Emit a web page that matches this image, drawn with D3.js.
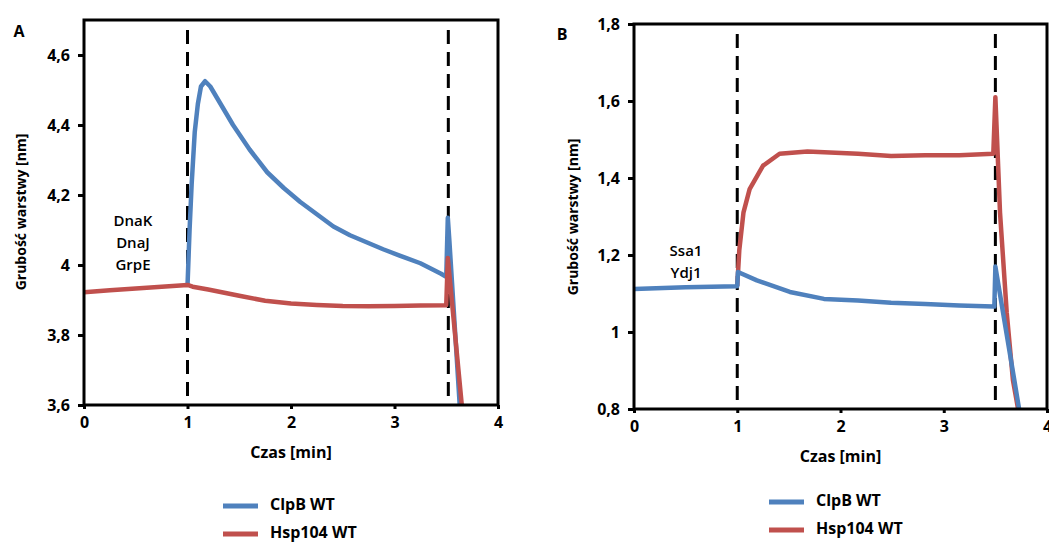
<!DOCTYPE html>
<html>
<head>
<meta charset="utf-8">
<script src="https://cdn.jsdelivr.net/npm/d3@7"></script>
<style>
  body { margin: 0; background: #fff; }
  svg text { font-family: "Open Sans", "DejaVu Sans", sans-serif; font-weight: bold; fill: #000; }
</style>
</head>
<body>
<div id="chart"></div>
<script>
// ---- panel A data (DnaK / DnaJ / GrpE) ----
const timeA_ClpB = [1.0, 1.02, 1.04, 1.07, 1.10, 1.13, 1.17, 1.22, 1.30, 1.44, 1.60, 1.77, 1.93, 2.09, 2.25, 2.41, 2.57, 2.73, 2.89, 3.05, 3.25, 3.45, 3.50, 3.515, 3.53, 3.63];
const valA_ClpB  = [3.94, 4.10, 4.23, 4.38, 4.46, 4.51, 4.525, 4.51, 4.47, 4.40, 4.33, 4.265, 4.22, 4.18, 4.145, 4.11, 4.085, 4.065, 4.045, 4.027, 4.005, 3.975, 3.966, 4.135, 4.07, 3.60];
const timeA_Hsp = [0, 0.25, 0.5, 0.75, 1.0, 1.05, 1.2, 1.5, 1.75, 2.0, 2.25, 2.5, 2.75, 3.0, 3.25, 3.5, 3.515, 3.65];
const valA_Hsp  = [3.922, 3.928, 3.933, 3.938, 3.943, 3.938, 3.930, 3.912, 3.898, 3.890, 3.886, 3.883, 3.882, 3.883, 3.884, 3.885, 4.02, 3.60];
const yTicksA = [3.6, 3.8, 4, 4.2, 4.4, 4.6];
const yTickLabelsA = ["3,6", "3,8", "4", "4,2", "4,4", "4,6"];
const notesA = ["DnaK", "DnaJ", "GrpE"];

// ---- panel B data (Ssa1 / Ydj1) ----
const timeB_ClpB = [0, 0.5, 1.0, 1.007, 1.19, 1.51, 1.84, 2.17, 2.49, 2.82, 3.15, 3.48, 3.49, 3.50, 3.73];
const valB_ClpB  = [1.112, 1.116, 1.119, 1.156, 1.134, 1.104, 1.086, 1.082, 1.076, 1.073, 1.069, 1.066, 1.066, 1.17, 0.80];
const timeB_Hsp = [1.0, 1.02, 1.06, 1.12, 1.25, 1.41, 1.68, 2.17, 2.49, 2.82, 3.15, 3.48, 3.50, 3.545, 3.61, 3.67, 3.72];
const valB_Hsp  = [1.12, 1.213, 1.31, 1.371, 1.432, 1.463, 1.469, 1.463, 1.457, 1.459, 1.459, 1.463, 1.61, 1.31, 1.05, 0.875, 0.80];
const yTicksB = [0.8, 1, 1.2, 1.4, 1.6, 1.8];
const yTickLabelsB = ["0,8", "1", "1,2", "1,4", "1,6", "1,8"];
const notesB = ["Ssa1", "Ydj1"];

const xTicks = [0, 1, 2, 3, 4];
const seriesNames = ["ClpB WT", "Hsp104 WT"];
const colors = ["#4f81bd", "#c0504d"];

const svg = d3.select("#chart").append("svg")
    .attr("width", 1049)
    .attr("height", 542);

function zip(t, v) {
  return t.map((d, i) => ({ t: d, v: v[i] }));
}

function drawPanel(p) {
  let x = d3.scaleLinear().domain([0, 4]).range([p.left, p.right]);
  let y = d3.scaleLinear().domain(p.yDomain).range([p.bottom, p.top]);
  let g = svg.append("g");

  g.append("clipPath").attr("id", "clip" + p.id)
    .append("rect")
    .attr("x", p.left).attr("y", p.top)
    .attr("width", p.right - p.left).attr("height", p.bottom - p.top);

  // dashed markers
  p.markers.forEach(m => {
    g.append("line")
      .attr("x1", x(m)).attr("x2", x(m))
      .attr("y1", p.top + 10).attr("y2", p.bottom)
      .attr("stroke", "#000")
      .attr("stroke-width", 3)
      .attr("stroke-dasharray", "14,8");
  });

  let line = d3.line().x(d => x(d.t)).y(d => y(d.v));

  p.series.forEach(s => {
    g.append("path")
      .attr("d", line(s.data))
      .attr("fill", "none")
      .attr("stroke", s.color)
      .attr("stroke-width", 4.5)
      .attr("stroke-linejoin", "round")
      .attr("clip-path", `url(#clip${p.id})`);
  });

  // frame
  g.append("rect")
    .attr("x", p.left).attr("y", p.top)
    .attr("width", p.right - p.left).attr("height", p.bottom - p.top)
    .attr("fill", "none").attr("stroke", "#000").attr("stroke-width", 3);

  let xAxis = d3.axisBottom(x).tickValues(xTicks).tickSize(4).tickPadding(8)
      .tickFormat(d3.format("d"));
  let yAxis = d3.axisLeft(y).tickValues(p.yTicks).tickSize(6).tickPadding(8)
      .tickFormat((d, i) => p.yLabels[i]);

  g.append("g")
    .attr("transform", `translate(0, ${p.bottom})`)
    .call(xAxis)
    .call(a => a.select(".domain").remove())
    .call(a => a.selectAll("line").attr("stroke-width", 3))
    .call(a => a.selectAll("text").style("font-size", "16px"));

  g.append("g")
    .attr("transform", `translate(${p.left}, 0)`)
    .call(yAxis)
    .call(a => a.select(".domain").remove())
    .call(a => a.selectAll("line").attr("stroke-width", 3))
    .call(a => a.selectAll("text").style("font-size", "16px"));

  // axis titles
  g.append("text")
    .attr("x", (p.left + p.right) / 2).attr("y", p.bottom + 53)
    .attr("text-anchor", "middle")
    .style("font-size", "16px")
    .text("Czas [min]");

  g.append("text")
    .attr("transform", `translate(${p.yTitleX}, ${p.yTitleY}) rotate(-90)`)
    .attr("text-anchor", "middle")
    .attr("dominant-baseline", "middle")
    .style("font-size", "14px")
    .text("Grubość warstwy [nm]");

  // panel letter
  g.append("text")
    .attr("x", p.letterX).attr("y", p.letterY)
    .attr("text-anchor", "middle").attr("dominant-baseline", "middle")
    .style("font-size", "16px")
    .text(p.id);

  // annotations
  p.notes.forEach((n, i) => {
    g.append("text")
      .attr("x", p.noteX).attr("y", p.noteY + i * 22)
      .attr("text-anchor", "middle").attr("dominant-baseline", "middle")
      .style("font-size", "15px").style("font-weight", "600")
      .text(n);
  });

  // legend
  seriesNames.forEach((n, i) => {
    let ly = p.legendY + i * 28;
    g.append("line")
      .attr("x1", p.legendX).attr("x2", p.legendX + 35)
      .attr("y1", ly).attr("y2", ly)
      .attr("stroke", colors[i]).attr("stroke-width", 5);
    g.append("text")
      .attr("x", p.legendX + 47).attr("y", ly)
      .attr("dominant-baseline", "middle")
      .style("font-size", "16px")
      .text(n);
  });
}

drawPanel({
  id: "A",
  left: 84, right: 498, top: 20, bottom: 405,
  yDomain: [3.6, 4.7], yTicks: yTicksA, yLabels: yTickLabelsA,
  markers: [1, 3.52],
  series: [
    { data: zip(timeA_ClpB, valA_ClpB), color: colors[0] },
    { data: zip(timeA_Hsp, valA_Hsp), color: colors[1] }
  ],
  yTitleX: 22, yTitleY: 212,
  letterX: 19, letterY: 33,
  notes: notesA, noteX: 133, noteY: 222,
  legendX: 223, legendY: 506
});

drawPanel({
  id: "B",
  left: 634, right: 1047, top: 24, bottom: 409,
  yDomain: [0.8, 1.8], yTicks: yTicksB, yLabels: yTickLabelsB,
  markers: [1, 3.5],
  series: [
    { data: zip(timeB_Hsp, valB_Hsp), color: colors[1] },
    { data: zip(timeB_ClpB, valB_ClpB), color: colors[0] }
  ],
  yTitleX: 574, yTitleY: 217,
  letterX: 562, letterY: 36,
  notes: notesB, noteX: 686, noteY: 252,
  legendX: 769, legendY: 502
});
</script>
</body>
</html>
